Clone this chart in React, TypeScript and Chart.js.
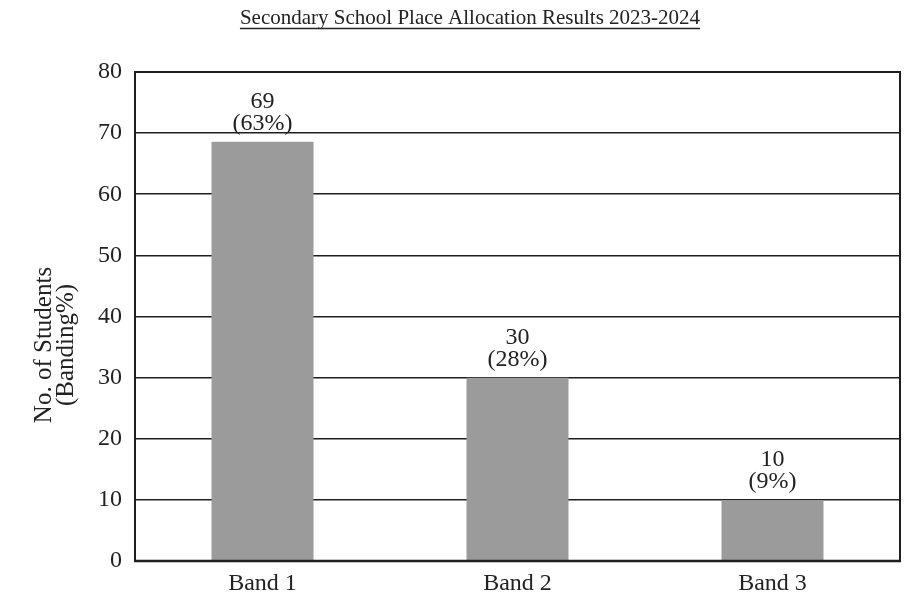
import React, { useEffect, useRef } from "react";
import { Chart, registerables } from "chart.js";

Chart.register(...registerables);

const categories = ["Band 1", "Band 2", "Band 3"];
const barValues = [68.6, 30, 10];
const countLabels = ["69", "30", "10"];
const percentLabels = ["(63%)", "(28%)", "(9%)"];
const yTicks = [0, 10, 20, 30, 40, 50, 60, 70, 80];
const chartTitle = "Secondary School Place Allocation Results 2023-2024";
const yTitleLines = ["No. of Students", "(Banding%)"];

const FONT = "'Liberation Serif', 'Times New Roman', serif";
const TEXT = "#222222";

const framePlugin = {
  id: "frame",
  afterDraw(chart: any) {
    const { ctx, chartArea } = chart;
    ctx.save();
    ctx.strokeStyle = "#1e1e1e";
    ctx.lineWidth = 2;
    ctx.strokeRect(chartArea.left, chartArea.top, chartArea.right - chartArea.left, chartArea.bottom - chartArea.top);
    ctx.lineWidth = 2.5;
    ctx.beginPath();
    ctx.moveTo(chartArea.left - 1, chartArea.bottom);
    ctx.lineTo(chartArea.right + 1, chartArea.bottom);
    ctx.stroke();
    ctx.restore();
  },
};

const textPlugin = {
  id: "texts",
  afterDraw(chart: any) {
    const { ctx } = chart;
    ctx.save();
    // title
    ctx.fillStyle = TEXT;
    ctx.font = `21px ${FONT}`;
    ctx.textAlign = "center";
    ctx.textBaseline = "alphabetic";
    const tx = 470;
    ctx.fillText(chartTitle, tx, 24);
    const w = ctx.measureText(chartTitle).width;
    ctx.strokeStyle = "#222";
    ctx.lineWidth = 1.3;
    ctx.beginPath();
    ctx.moveTo(tx - w / 2, 28.5);
    ctx.lineTo(tx + w / 2, 28.5);
    ctx.stroke();
    // y title
    ctx.translate(53, 345);
    ctx.rotate(-Math.PI / 2);
    ctx.font = `25px ${FONT}`;
    ctx.textBaseline = "alphabetic";
    ctx.fillText(yTitleLines[0], 0, -2);
    ctx.fillText(yTitleLines[1], 0, 20);
    ctx.restore();
  },
};

const labelPlugin = {
  id: "barLabels",
  afterDatasetsDraw(chart: any) {
    const { ctx } = chart;
    const meta = chart.getDatasetMeta(0);
    ctx.save();
    ctx.fillStyle = TEXT;
    ctx.font = `24px ${FONT}`;
    ctx.textAlign = "center";
    ctx.textBaseline = "alphabetic";
    meta.data.forEach((bar: any, i: number) => {
      const base = bar.y - 12;
      ctx.fillText(percentLabels[i], bar.x, base);
      ctx.fillText(countLabels[i], bar.x, base - 22);
    });
    ctx.restore();
  },
};

export default function App() {
  const ref = useRef<HTMLCanvasElement | null>(null);
  useEffect(() => {
    document.body.style.margin = "0";
    const canvas = ref.current!;
    const chart = new Chart(canvas, {
      type: "bar",
      data: {
        labels: categories,
        datasets: [
          {
            data: barValues,
            backgroundColor: "#9b9b9b",
            borderWidth: 0,
            barPercentage: 0.4,
            categoryPercentage: 1,
          },
        ],
      },
      options: {
        animation: false,
        responsive: false,
        devicePixelRatio: 1,
        layout: { padding: { top: 72, right: 19, left: 0, bottom: 0 } },
        plugins: { legend: { display: false }, tooltip: { enabled: false }, title: { display: false } },
        scales: {
          x: {
            grid: { display: false },
            border: { display: false },
            ticks: { color: TEXT, font: { family: FONT, size: 24 }, padding: 0 },
            afterFit(scale: any) {
              scale.height = 34;
            },
          },
          y: {
            min: 0,
            max: 80,
            afterBuildTicks(scale: any) {
              scale.ticks = yTicks.map((v) => ({ value: v }));
            },
            grid: { color: "#1e1e1e", lineWidth: 1.6, drawTicks: false },
            border: { display: false },
            ticks: { color: TEXT, font: { family: FONT, size: 24 }, padding: 13 },
            afterFit(scale: any) {
              scale.width = 135;
            },
          },
        },
      },
      plugins: [framePlugin, textPlugin, labelPlugin],
    });
    return () => chart.destroy();
  }, []);
  return <canvas ref={ref} width={919} height={595} style={{ display: "block" }} />;
}
